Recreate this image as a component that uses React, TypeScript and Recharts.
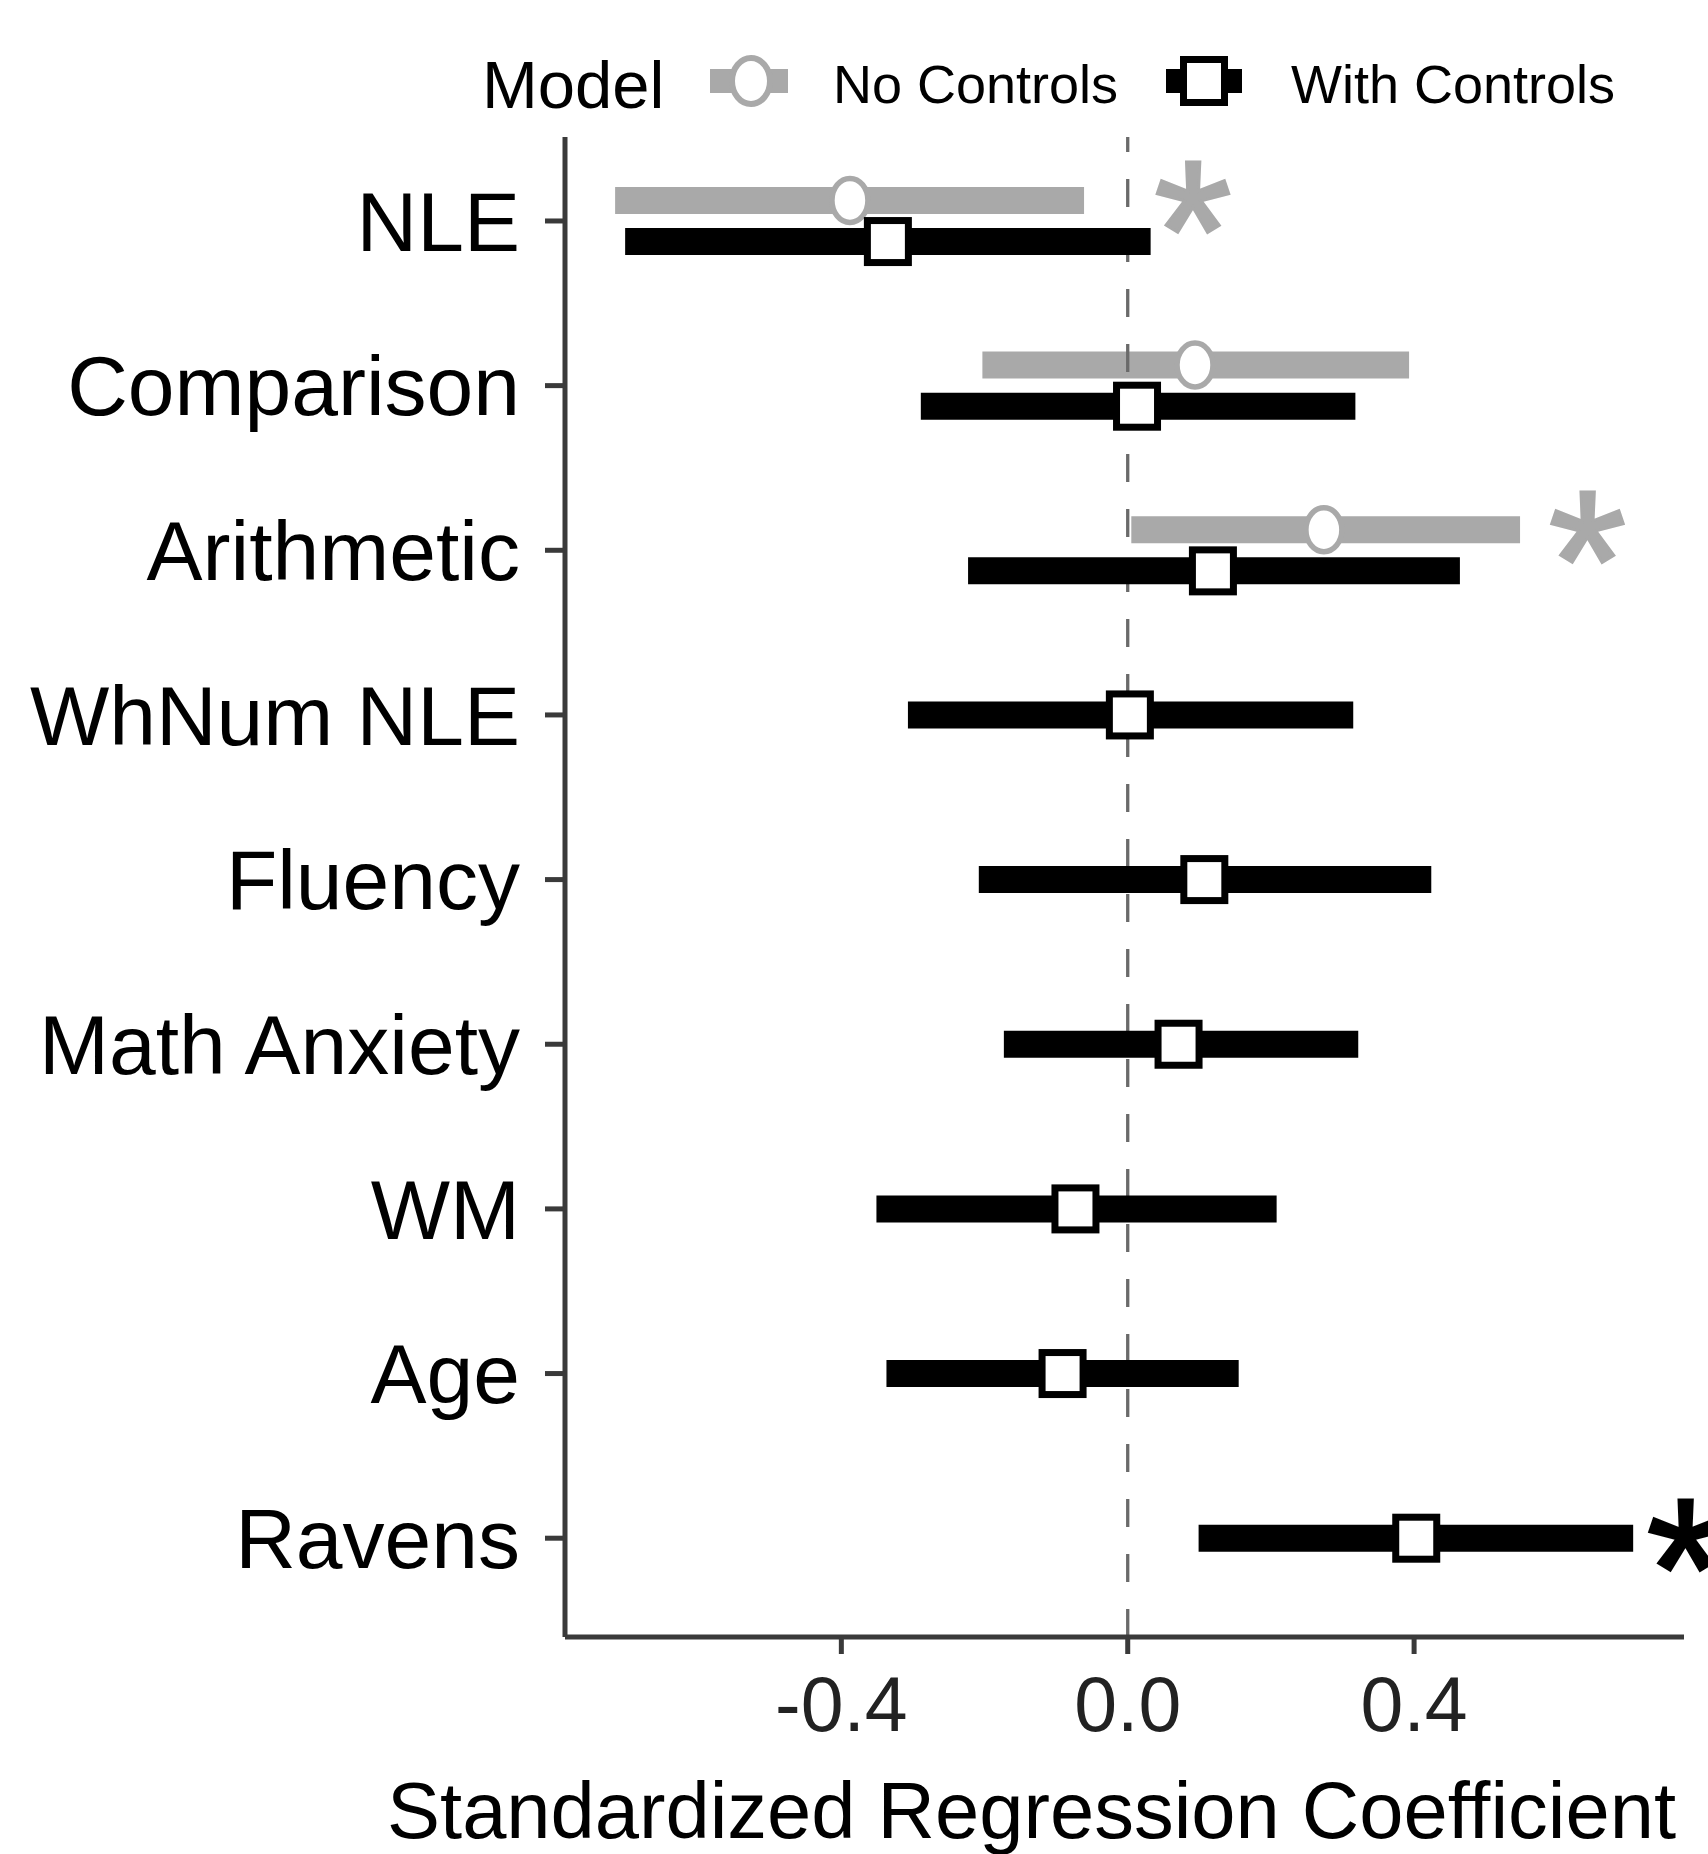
import React from 'react';
import { ComposedChart, Scatter, ErrorBar, XAxis, YAxis, ReferenceLine, ReferenceDot, Legend } from 'recharts';

const FONT = '"Liberation Sans", Arial, Helvetica, sans-serif';

const categories = ['NLE', 'Comparison', 'Arithmetic', 'WhNum NLE', 'Fluency', 'Math Anxiety', 'WM', 'Age', 'Ravens'];

const modelNames = ['No Controls', 'With Controls'];
const modelColors = ['#a9a9a9', '#000000'];

// model without controls: only the first three predictors
const noCtrlEst = [-0.388, 0.094, 0.274];
const noCtrlLow = [-0.716, -0.203, 0.005];
const noCtrlHigh = [-0.061, 0.393, 0.548];

// model with controls: all predictors
const withCtrlEst = [-0.335, 0.013, 0.119, 0.003, 0.107, 0.071, -0.073, -0.091, 0.403];
const withCtrlLow = [-0.702, -0.289, -0.223, -0.307, -0.208, -0.173, -0.351, -0.337, 0.099];
const withCtrlHigh = [0.032, 0.318, 0.464, 0.315, 0.424, 0.322, 0.208, 0.155, 0.706];

// significance stars
const starCategory = ['NLE', 'Arithmetic', 'Ravens'];
const starModel = ['No Controls', 'No Controls', 'With Controls'];
const starX = [0.091, 0.642, 0.779];

const xTicks = [-0.4, 0, 0.4];

const DODGE = 0.125;

const hasBoth = (i: number) => i < noCtrlEst.length && i < withCtrlEst.length;

const noCtrlRows = noCtrlEst.map((est, i) => ({
  x: est,
  y: i - (hasBoth(i) ? DODGE : 0),
  err: [est - noCtrlLow[i], noCtrlHigh[i] - est],
}));

const withCtrlRows = withCtrlEst.map((est, i) => ({
  x: est,
  y: i + (hasBoth(i) ? DODGE : 0),
  err: [est - withCtrlLow[i], withCtrlHigh[i] - est],
}));

const starRows = starCategory.map((cat, k) => {
  const i = categories.indexOf(cat);
  const m = modelNames.indexOf(starModel[k]);
  return {
    x: starX[k],
    y: i + (hasBoth(i) ? (m === 0 ? -DODGE : DODGE) : 0),
    color: modelColors[m],
  };
});

// the source image is a little squeezed sideways, so the open circles are slightly tall
const CircleDot = (p: any) => (
  <ellipse cx={p.cx} cy={p.cy} rx={18} ry={22} fill="#fff" stroke={modelColors[0]} strokeWidth={5.5} />
);

const SquareDot = (p: any) => (
  <rect x={p.cx - 20.5} y={p.cy - 21} width={41} height={42} fill="#fff" stroke={modelColors[1]} strokeWidth={7} />
);

const StarMark = (p: any) => {
  const fs = 200;
  return (
    <text
      x={p.cx}
      y={p.cy + fs * 0.5}
      textAnchor="middle"
      fontSize={fs}
      fontFamily={FONT}
      fill={p.fill}
      stroke={p.fill}
      strokeWidth={3}
    >
      *
    </text>
  );
};

const ModelLegend = () => (
  <svg width={1200} height={100} style={{ display: 'block' }}>
    <text x={22} y={78} fontSize={67} fontFamily={FONT} fill="#000">Model</text>
    <rect x={250} y={39} width={78} height={24} fill={modelColors[0]} />
    <ellipse cx={291} cy={51} rx={19} ry={23} fill="#fff" stroke={modelColors[0]} strokeWidth={6} />
    <text x={373} y={73} fontSize={54} fontFamily={FONT} fill="#000">{modelNames[0]}</text>
    <rect x={706} y={39} width={76} height={24} fill={modelColors[1]} />
    <rect x={723.5} y={29.5} width={41} height={43} fill="#fff" stroke={modelColors[1]} strokeWidth={7} />
    <text x={831} y={73} fontSize={54} fontFamily={FONT} fill="#000">{modelNames[1]}</text>
  </svg>
);

const AxisTitle = (props: any) => {
  const vb = props.viewBox;
  return (
    <text x={vb.x + vb.width / 2 - 93} y={1838} textAnchor="middle" fontSize={79.5} fontFamily={FONT} fill="#000">
      Standardized Regression Coefficient
    </text>
  );
};

export default function App() {
  return (
    <div style={{ position: 'absolute', left: 0, top: 0, width: 1708, height: 1854, background: '#fff' }}>
      <ComposedChart width={1708} height={1854} margin={{ top: 137, right: 24, bottom: 0, left: 0 }}>
        <XAxis
          type="number"
          dataKey="x"
          domain={[-0.786, 0.777]}
          allowDataOverflow
          ticks={xTicks}
          tickFormatter={(v: number) => v.toFixed(1)}
          height={217}
          tickSize={17}
          tickMargin={22}
          axisLine={{ stroke: '#3a3a3a', strokeWidth: 5 }}
          tickLine={{ stroke: '#3a3a3a', strokeWidth: 5 }}
          tick={{ fontSize: 77, fill: '#222', fontFamily: FONT }}
          label={AxisTitle}
        />
        <YAxis
          type="number"
          dataKey="y"
          domain={[-0.51, 8.6]}
          allowDataOverflow
          reversed
          ticks={categories.map((_, i) => i)}
          tickFormatter={(v: number) => categories[v]}
          width={565}
          tickSize={20}
          tickMargin={25}
          axisLine={{ stroke: '#3a3a3a', strokeWidth: 5 }}
          tickLine={{ stroke: '#3a3a3a', strokeWidth: 5 }}
          tick={{ fontSize: 84, fill: '#000', fontFamily: FONT }}
        />
        <Legend
          verticalAlign="middle"
          layout="horizontal"
          wrapperStyle={{ top: 30, left: 460, width: 1200, height: 100 }}
          content={ModelLegend}
        />
        <Scatter name={modelNames[0]} data={noCtrlRows} fill={modelColors[0]} shape={CircleDot} isAnimationActive={false}>
          <ErrorBar dataKey="err" direction="x" width={0} strokeWidth={27} stroke={modelColors[0]} isAnimationActive={false} />
        </Scatter>
        <ReferenceLine x={0} stroke="#6a6a6a" strokeWidth={3.3} strokeDasharray="28 27" />
        <Scatter name={modelNames[1]} data={withCtrlRows} fill={modelColors[1]} shape={SquareDot} isAnimationActive={false}>
          <ErrorBar dataKey="err" direction="x" width={0} strokeWidth={27} stroke={modelColors[1]} isAnimationActive={false} />
        </Scatter>
        {starRows.map((s, k) => (
          <ReferenceDot key={k} x={s.x} y={s.y} ifOverflow="visible" fill={s.color} shape={StarMark} />
        ))}
      </ComposedChart>
    </div>
  );
}
